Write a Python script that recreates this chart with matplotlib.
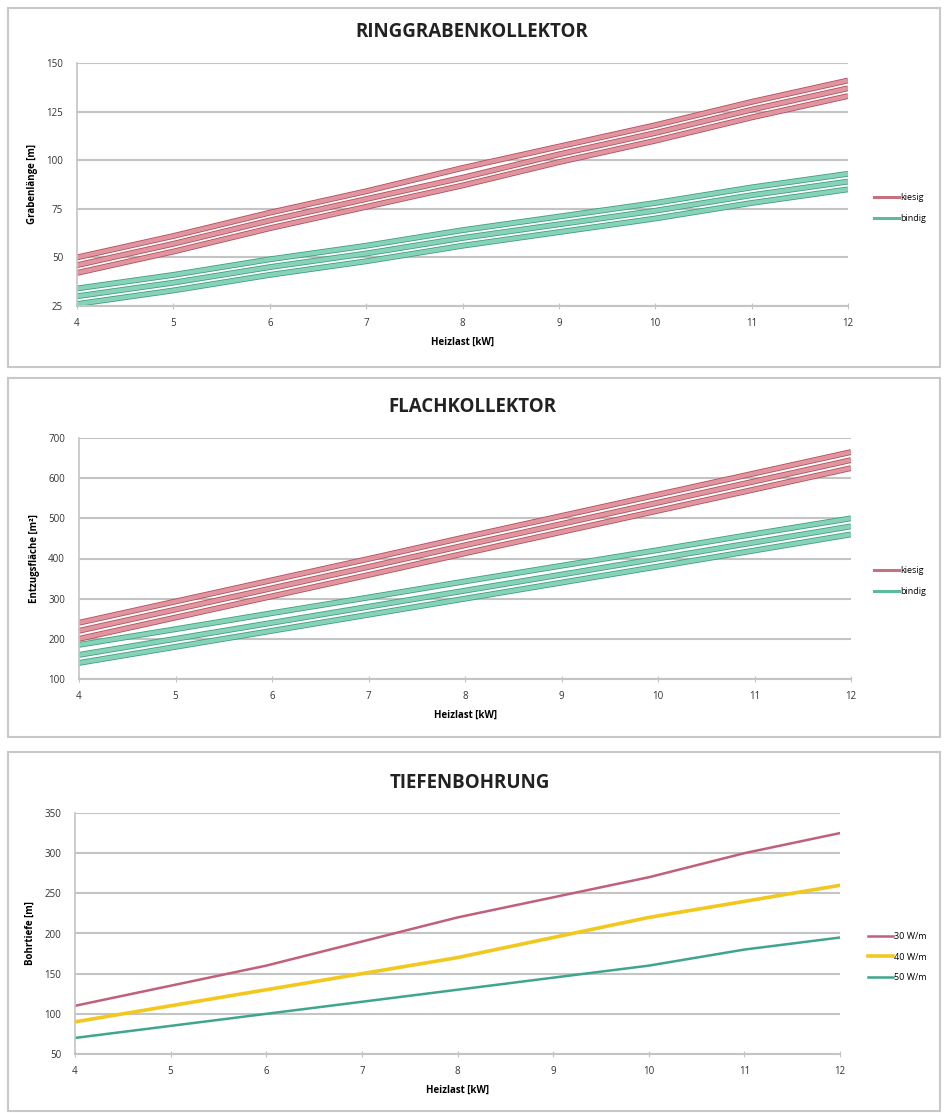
import matplotlib
matplotlib.use("Agg")
import matplotlib.pyplot as plt
import matplotlib.patheffects as pe
from matplotlib.patches import Rectangle
from matplotlib.lines import Line2D

plt.rcParams['font.family'] = ['Open Sans', 'DejaVu Sans']

heizlast = [4, 5, 6, 7, 8, 9, 10, 11, 12]

# Ringgrabenkollektor [m]
ring_kies_oben = [50, 61, 73, 84, 96, 107, 118, 130, 141]
ring_kies_mitte = [46, 57, 69, 80, 91, 103, 114, 126, 137]
ring_kies_unten = [42, 53, 65, 76, 87, 99, 110, 122, 133]
ring_bind_oben = [34, 41, 49, 56, 64, 71, 78, 86, 93]
ring_bind_mitte = [30, 37, 45, 52, 60, 67, 74, 82, 89]
ring_bind_unten = [26, 33, 41, 48, 56, 63, 70, 78, 85]

# Flachkollektor [m²]
flach_kies_oben = [240, 293, 346, 399, 453, 506, 559, 612, 665]
flach_kies_mitte = [220, 273, 326, 379, 433, 486, 539, 592, 645]
flach_kies_unten = [200, 253, 306, 359, 413, 466, 519, 572, 625]
flach_bind_oben = [185, 224, 264, 303, 343, 382, 421, 461, 500]
flach_bind_mitte = [160, 200, 240, 280, 320, 360, 400, 440, 480]
flach_bind_unten = [140, 180, 220, 260, 300, 340, 380, 420, 460]

# Tiefenbohrung [m]
tief_30 = [110, 135, 160, 190, 220, 245, 270, 300, 325]
tief_40 = [90, 110, 130, 150, 170, 195, 220, 240, 260]
tief_50 = [70, 85, 100, 115, 130, 145, 160, 180, 195]

RED_L, RED_D = '#e0959f', '#b34f5e'
GRN_L, GRN_D = '#86d3b8', '#3f9f80'

W, H = 944, 1113
fig = plt.figure(figsize=(W / 100, H / 100), dpi=100)


def fx(px):
    return px / W


def fy(py):
    return 1 - py / H


def box(top, bottom):
    r = Rectangle((fx(8), fy(bottom)), fx(932), (bottom - top) / H,
                  transform=fig.transFigure, fill=False, ec='#c8c8c8', lw=1.5)
    fig.add_artist(r)


def make_axes(l, r, t, b, ylim, yticks, ylabel):
    ax = fig.add_axes([fx(l), fy(b), fx(r - l), (b - t) / H])
    ax.set_xlim(4, 12)
    ax.set_ylim(*ylim)
    ax.set_xticks(heizlast)
    ax.set_yticks(yticks)
    ax.grid(axis='y', color='#c4c4c4', lw=1.5)
    ax.set_axisbelow(True)
    for s in ['top', 'right']:
        ax.spines[s].set_visible(False)
    ax.spines['left'].set_color('#c4c4c4')
    ax.spines['bottom'].set_color('#c4c4c4')
    ax.spines['left'].set_linewidth(1.2)
    ax.spines['bottom'].set_linewidth(1.5)
    ax.tick_params(axis='x', direction='inout', length=5, color='#c4c4c4',
                   labelsize=7, pad=6, labelcolor='#333333')
    ax.tick_params(axis='y', length=0, labelsize=7, pad=10, labelcolor='#333333')
    ax.set_xlabel('Heizlast [kW]', fontsize=7, fontweight='bold', labelpad=6)
    ax.set_ylabel(ylabel, fontsize=7, fontweight='bold', labelpad=6)
    return ax


def band(ax, ys, light, dark):
    for y in ys:
        ax.plot(heizlast, y, color=light, lw=3.0, solid_capstyle='butt',
                path_effects=[pe.Stroke(linewidth=4.2, foreground=dark), pe.Normal()])


def legend_band(y_center_px, labels, colors):
    handles = [Line2D([0], [0], color=c, lw=2.2) for c in colors]
    fig.legend(handles, labels, loc='center left',
               bbox_to_anchor=(fx(866), fy(y_center_px)), frameon=False,
               fontsize=6.5, handlelength=2.8, handletextpad=0.1, labelspacing=1.3)


# Panel 1
box(8, 367)
fig.text(fx(472), fy(32), 'RINGGRABENKOLLEKTOR', ha='center', va='center',
         fontsize=13.5, fontweight='bold', color='#222222')
ax1 = make_axes(77, 848, 63, 306, (25, 150), [25, 50, 75, 100, 125, 150],
                'Grabenlänge [m]')
band(ax1, [ring_kies_oben, ring_kies_mitte, ring_kies_unten], RED_L, RED_D)
band(ax1, [ring_bind_oben, ring_bind_mitte, ring_bind_unten], GRN_L, GRN_D)
legend_band(208, ['kiesig', 'bindig'], ['#c9727f', '#5dbb9c'])

# Panel 2
box(378, 737)
fig.text(fx(472), fy(407), 'FLACHKOLLEKTOR', ha='center', va='center',
         fontsize=13.5, fontweight='bold', color='#222222')
ax2 = make_axes(79, 851, 438, 679, (100, 700), [100, 200, 300, 400, 500, 600, 700],
                'Entzugsfläche [m²]')
band(ax2, [flach_kies_oben, flach_kies_mitte, flach_kies_unten], RED_L, RED_D)
band(ax2, [flach_bind_oben, flach_bind_mitte, flach_bind_unten], GRN_L, GRN_D)
legend_band(581, ['kiesig', 'bindig'], ['#c9727f', '#5dbb9c'])

# Panel 3
box(752, 1111)
fig.text(fx(470), fy(783), 'TIEFENBOHRUNG', ha='center', va='center',
         fontsize=13.5, fontweight='bold', color='#222222')
ax3 = make_axes(75, 840, 813, 1054, (50, 350), [50, 100, 150, 200, 250, 300, 350],
                'Bohrtiefe [m]')
ax3.plot(heizlast, tief_30, color='#c0607a', lw=1.8, label='30 W/m')
ax3.plot(heizlast, tief_40, color='#f2c81e', lw=2.6, label='40 W/m')
ax3.plot(heizlast, tief_50, color='#3fa58f', lw=1.8, label='50 W/m')
h3, l3 = ax3.get_legend_handles_labels()
fig.legend(h3, l3, loc='center left', bbox_to_anchor=(fx(860), fy(957)),
           frameon=False, fontsize=6.5, handlelength=2.8, handletextpad=0.1,
           labelspacing=1.3)

fig.savefig('out.png', dpi=100, facecolor='white')
